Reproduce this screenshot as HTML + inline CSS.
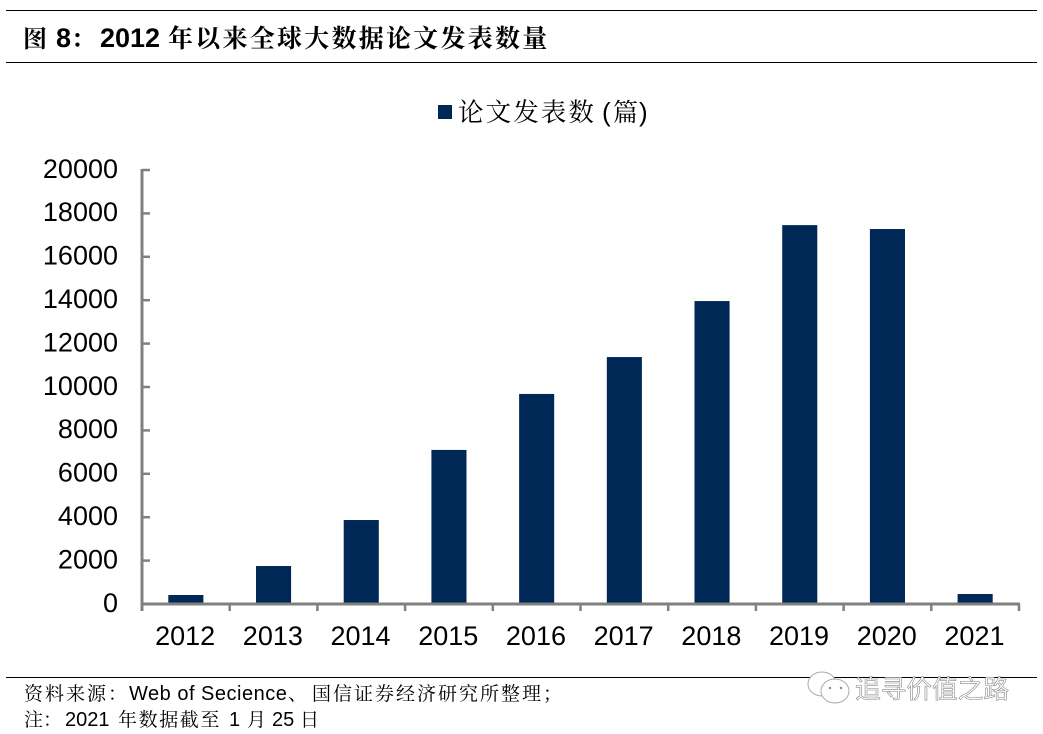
<!DOCTYPE html>
<html lang="zh-CN">
<head>
<meta charset="utf-8">
<style>
html,body{margin:0;padding:0;background:#fff;}
svg{display:block;}
text{font-family:"Liberation Sans","Noto Serif CJK SC",serif;fill:#000;}
.cjk{font-family:"Noto Serif CJK SC","Noto Serif CJK JP",serif;}
</style>
</head>
<body>
<svg id="chart" width="1043" height="734" viewBox="0 0 1043 734" xmlns="http://www.w3.org/2000/svg">
<rect x="0" y="0" width="1043" height="734" fill="#fff"/>
<line x1="6" y1="10.5" x2="1037" y2="10.5" stroke="#000" stroke-width="1"/>
<line x1="6" y1="62.5" x2="1037" y2="62.5" stroke="#000" stroke-width="1"/>
<text y="47" font-weight="bold" xml:space="preserve"><tspan class="cjk" x="23" font-size="24">图</tspan><tspan x="56" font-size="27">8</tspan><tspan class="cjk" x="71" font-size="24">：</tspan><tspan x="100" font-size="27">2012</tspan><tspan class="cjk" x="168" font-size="25" letter-spacing="2.25">年以来全球大数据论文发表数量</tspan></text>
<rect x="438" y="105" width="14" height="14" fill="#002856"/>
<text y="121" xml:space="preserve"><tspan class="cjk" x="458" font-size="25.5" letter-spacing="2.1">论文发表数</tspan><tspan x="602" font-size="26">(</tspan><tspan class="cjk" x="613" font-size="25">篇</tspan><tspan x="639" font-size="26">)</tspan></text>
<g id="plot"></g>
<line x1="6" y1="677.5" x2="1037" y2="677.5" stroke="#000" stroke-width="1"/>
<text y="700" xml:space="preserve"><tspan class="cjk" x="24" font-size="19" letter-spacing="2">资料来源：</tspan><tspan x="129" font-size="20" letter-spacing="0.5">Web of Secience</tspan><tspan class="cjk" x="288" font-size="19">、</tspan><tspan class="cjk" x="312" font-size="19" letter-spacing="2">国信证券经济研究所整理；</tspan></text>
<text y="726" xml:space="preserve"><tspan class="cjk" x="24" font-size="19">注：</tspan><tspan x="65" font-size="20">2021</tspan><tspan class="cjk" x="118" font-size="19" letter-spacing="1.6">年数据截至</tspan><tspan x="229" font-size="20">1</tspan><tspan class="cjk" x="247" font-size="19">月</tspan><tspan x="272" font-size="20">25</tspan><tspan class="cjk" x="300" font-size="19">日</tspan></text>
<g>
<ellipse cx="822" cy="684" rx="14" ry="12" fill="#fff" stroke="#aaa" stroke-width="1"/>
<ellipse cx="835" cy="691" rx="14" ry="12" fill="#fff" stroke="#aaa" stroke-width="1"/>
<circle cx="830" cy="688" r="1.2" fill="#888"/>
<circle cx="841" cy="688" r="1.2" fill="#888"/>
<text x="855" y="698" font-size="25.7" style="fill:#fff;stroke:#888;stroke-width:0.6;font-family:'Noto Sans CJK SC',sans-serif">追寻价值之路</text>
</g>
</svg>
<script>
const categories = ['2012','2013','2014','2015','2016','2017','2018','2019','2020','2021'];
const paperCounts = [415,1750,3870,7100,9680,11380,13960,17460,17280,460];
const yTickLabels = [0,2000,4000,6000,8000,10000,12000,14000,16000,18000,20000];
const yMax = 20000;

const plot = document.getElementById('plot');
const NS = 'http://www.w3.org/2000/svg';
const left = 142, right = 1019, top_ = 170, bottom = 604;
const axisColor = '#808080';
function xBand(i){ return left + (right - left) * i / categories.length; }
function yScale(v){ return bottom - (bottom - top_) * v / yMax; }
function make(tag, props){
  const el = document.createElementNS(NS, tag);
  for (const k in props) el.setAttribute(k, props[k]);
  plot.appendChild(el);
  return el;
}
const bandW = (right - left) / categories.length;
const barW = bandW * 0.4;
paperCounts.forEach(function(v, i){
  const bar = make('rect', {x: xBand(i) + (bandW - barW) / 2, y: yScale(v), width: barW, height: bottom - yScale(v), fill: '#002856'});
  
  
});
yTickLabels.forEach(function(t){
  const y = yScale(t);
  const tick = make('line', {x1: left, x2: 150, y1: y, y2: y, stroke: axisColor, 'stroke-width': 2.5});
  
  
  const label = make('text', {x: 118, y: y + 7.8, 'text-anchor': 'end', 'font-size': 27});
  label.textContent = t;
  
  
});
for (let i = 0; i <= categories.length; i++){
  const x = xBand(i);
  const tick = make('line', {x1: x, x2: x, y1: bottom, y2: 611, stroke: axisColor, 'stroke-width': 2.5});
  
  
}
categories.forEach(function(c, i){
  const label = make('text', {x: xBand(i) + bandW / 2 - 0.7, y: 645, 'text-anchor': 'middle', 'font-size': 27});
  label.textContent = c;
  
  
});
const yAxis = make('line', {x1: left, x2: left, y1: top_ - 1, y2: 611, stroke: axisColor, 'stroke-width': 3});


const xAxis = make('line', {x1: left, x2: right + 1, y1: bottom, y2: bottom, stroke: axisColor, 'stroke-width': 3});


</script>
</body>
</html>
